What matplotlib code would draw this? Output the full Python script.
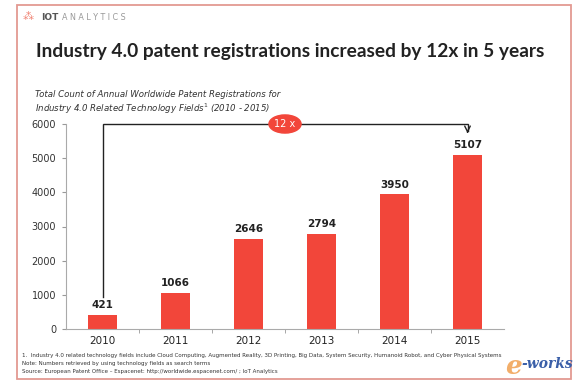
import matplotlib.pyplot as plt
from matplotlib.patches import Ellipse, Rectangle

years = ['2010', '2011', '2012', '2013', '2014', '2015']
patents = [421, 1066, 2646, 2794, 3950, 5107]
yticks = [0, 1000, 2000, 3000, 4000, 5000, 6000]

title = 'Industry 4.0 patent registrations increased by 12x in 5 years'
subtitle = ('Total Count of Annual Worldwide Patent Registrations for\n'
            'Industry 4.0 Related Technology Fields$^1$ (2010 - 2015)')
notes = [
    '1.  Industry 4.0 related technology fields include Cloud Computing, Augmented Reality, 3D Printing, '
    'Big Data, System Security, Humanoid Robot, and Cyber Physical Systems',
    'Note: Numbers retrieved by using technology fields as search terms',
    'Source: European Patent Office \u2013 Espacenet: http://worldwide.espacenet.com/ ; IoT Analytics',
]

red = '#f2463a'
W, H = 580, 386

fig = plt.figure(figsize=(5.8, 3.86), dpi=100)
fig.patch.set_facecolor('white')

# outer frame
fig.add_artist(Rectangle((17 / W, 1 - 379 / H), 554 / W, 374 / H,
                         transform=fig.transFigure, fill=False,
                         edgecolor='#e39a92', lw=1.3))

# logo
fig.text(23 / W, 1 - 17 / H, '\u2042', color='#f08070', fontsize=8, va='center')
fig.text(41 / W, 1 - 17 / H, 'IOT', color='#555555', fontsize=6.5,
         fontweight='bold', va='center', family='DejaVu Sans')
fig.text(62 / W, 1 - 17 / H, 'A N A L Y T I C S', color='#999999', fontsize=5.8,
         va='center', family='DejaVu Sans')

fig.text(0.5, 1 - 52 / H, title, ha='center', va='center',
         fontsize=13.8, fontweight='bold', color='#222222', family='Lato')
fig.text(35 / W, 1 - 103 / H, subtitle, ha='left', va='center',
         fontsize=6.2, style='italic', color='#333333', linespacing=1.3)

ax = fig.add_axes([66 / W, 1 - 329 / H, 438 / W, 205 / H])
x = range(len(years))
ax.bar(x, patents, width=0.41, color=red)
for i, v in enumerate(patents):
    ax.text(i, v + 130, str(v), ha='center', va='bottom',
            fontsize=7.5, fontweight='bold', color='#222222')

ax.set_ylim(0, 6000)
ax.set_xlim(-0.5, len(years) - 0.5)
ax.set_yticks(yticks)
ax.set_yticklabels([str(t) for t in yticks], fontsize=7, color='#333333')
ax.set_xticks(list(x))
ax.set_xticklabels(years, fontsize=7.5, color='#222222')
ax.set_xticks([i + 0.5 for i in range(len(years) - 1)], minor=True)
ax.tick_params(axis='x', which='major', length=0, pad=5)
ax.tick_params(axis='x', which='minor', length=3, color='#999999')
ax.tick_params(axis='y', length=3, color='#999999', pad=4)
for s in ['top', 'right']:
    ax.spines[s].set_visible(False)
for s in ['left', 'bottom']:
    ax.spines[s].set_color('#aaaaaa')
    ax.spines[s].set_linewidth(0.8)

# 12x growth bracket
ax.plot([0, 0, 5, 5], [950, 6000, 6000, 5800], color='#222222', lw=1.0,
        clip_on=False, solid_joinstyle='miter')
ax.annotate('', xy=(5, 5650), xytext=(5, 5850),
            arrowprops=dict(arrowstyle='->', color='#222222', lw=1.0),
            annotation_clip=False)
ax.add_patch(Ellipse((2.5, 6000), 0.44, 530, color=red, clip_on=False, zorder=5))
ax.text(2.5, 6000, '12 x', ha='center', va='center', color='white',
        fontsize=7, zorder=6)

for k, n in enumerate(notes):
    fig.text(22 / W, 1 - (355 + 8 * k) / H, n, fontsize=3.95, color='#333333',
             va='center')

# watermark
fig.text(522 / W, 1 - 366 / H, 'e', fontsize=19, color='#f0a050', style='italic',
         fontweight='bold', va='center', ha='right', family='DejaVu Serif', alpha=0.85)
fig.text(573 / W, 1 - 364 / H, '-works', fontsize=10, color='#3a5fa8',
         style='italic', fontweight='bold', va='center', ha='right',
         family='DejaVu Serif')

fig.savefig('out.png', dpi=100)
